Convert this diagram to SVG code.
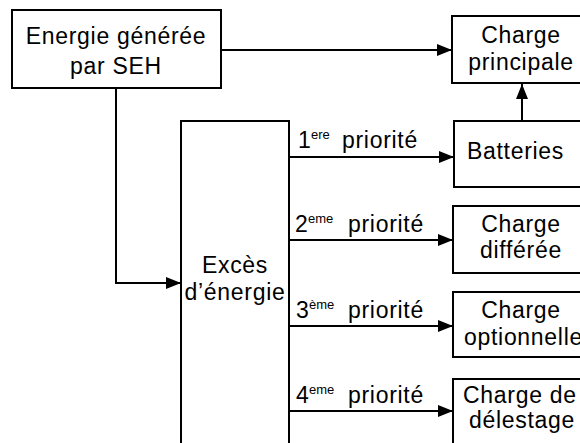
<svg xmlns="http://www.w3.org/2000/svg" width="580" height="443" viewBox="0 0 580 443">
  <style>
    .box { fill: #ffffff; stroke: #000000; stroke-width: 2; }
    .wire { fill: none; stroke: #000000; stroke-width: 2; }
    text { font-family: "Liberation Sans", Arial, sans-serif; font-size: 23px; letter-spacing: 0.7px; fill: #000000; }
    .mid { text-anchor: middle; }
    .sup { font-size: 13px; letter-spacing: 0; }
  </style>
  <defs>
    <marker id="arrow" markerUnits="userSpaceOnUse" viewBox="0 0 15 12" refX="15" refY="6" markerWidth="15" markerHeight="12" orient="auto">
      <path d="M0,0 L15,6 L0,12 z" fill="#000000"/>
    </marker>
  </defs>
  <rect width="580" height="443" fill="#ffffff"/>

  <!-- connectors -->
  <g id="connectors">
    <path class="wire" d="M221,50 H452" marker-end="url(#arrow)"/>
    <path class="wire" d="M116,88 V283 H181" marker-end="url(#arrow)"/>
    <path class="wire" d="M522,121 V84" marker-end="url(#arrow)"/>
    <path class="wire" d="M289,157 H454" marker-end="url(#arrow)"/>
    <path class="wire" d="M289,240 H453" marker-end="url(#arrow)"/>
    <path class="wire" d="M289,326 H453" marker-end="url(#arrow)"/>
    <path class="wire" d="M289,411 H453" marker-end="url(#arrow)"/>
  </g>

  <!-- priority labels -->
  <g id="labels">
    <text x="298" y="148">1<tspan class="sup" x="311" y="139">ere</tspan><tspan x="342" y="148">priorité</tspan></text>
    <text x="295" y="232">2<tspan class="sup" x="308" y="223">eme</tspan><tspan x="348" y="232">priorité</tspan></text>
    <text x="296" y="318">3<tspan class="sup" x="309" y="309">ème</tspan><tspan x="348" y="318">priorité</tspan></text>
    <text x="296" y="403">4<tspan class="sup" x="309" y="394">eme</tspan><tspan x="348" y="403">priorité</tspan></text>
  </g>

  <g id="source">
    <rect class="box" x="12" y="10" width="209" height="78"/>
    <text class="mid" x="116" y="44">Energie générée</text>
    <text class="mid" x="116" y="74">par SEH</text>
  </g>

  <g id="excess">
    <rect class="box" x="181" y="121" width="108" height="340"/>
    <text class="mid" x="235" y="273">Excès</text>
    <text class="mid" x="235" y="300">d’énergie</text>
  </g>

  <g id="main-load">
    <rect class="box" x="452" y="16" width="150" height="67"/>
    <text class="mid" x="521" y="43">Charge</text>
    <text class="mid" x="521" y="70">principale</text>
  </g>

  <g id="batteries">
    <rect class="box" x="454" y="121" width="150" height="66"/>
    <text x="467" y="159">Batteries</text>
  </g>

  <g id="deferred-load">
    <rect class="box" x="453" y="206" width="150" height="67"/>
    <text class="mid" x="521" y="232">Charge</text>
    <text class="mid" x="521" y="258">différée</text>
  </g>

  <g id="optional-load">
    <rect class="box" x="453" y="292" width="150" height="65"/>
    <text class="mid" x="521" y="318">Charge</text>
    <text x="464" y="345">optionnelle</text>
  </g>

  <g id="shedding-load">
    <rect class="box" x="453" y="379" width="150" height="90"/>
    <text x="463" y="403">Charge de</text>
    <text x="469" y="428">délestage</text>
  </g>
</svg>
